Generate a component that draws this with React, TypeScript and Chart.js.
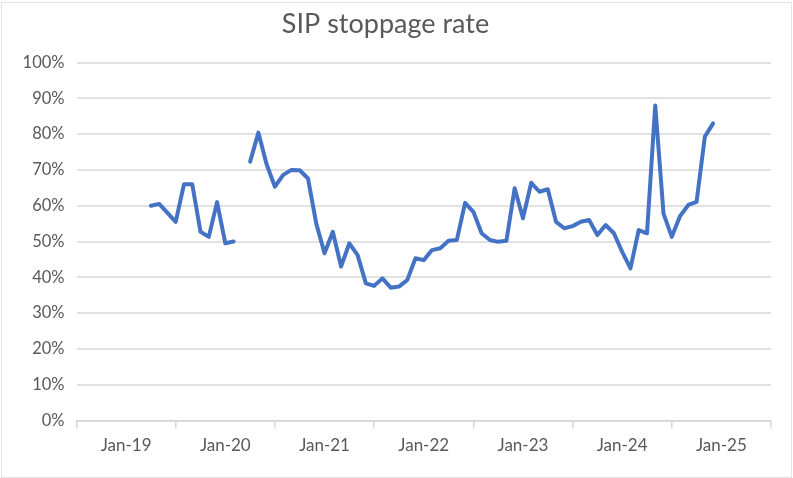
import React, { useEffect, useRef } from "react";
import { Chart, registerables } from "chart.js";

Chart.register(...registerables);

const MONTH_NAMES = ["Jan", "Feb", "Mar", "Apr", "May", "Jun", "Jul", "Aug", "Sep", "Oct", "Nov", "Dec"];

// Category axis: Jul-18 .. Jul-25 (monthly)
const CATEGORIES: string[] = [];
for (let y = 2018; y <= 2025; y++) {
  for (let m = 0; m < 12; m++) {
    if (y === 2018 && m < 6) continue;
    if (y === 2025 && m > 6) continue;
    CATEGORIES.push(`${MONTH_NAMES[m]}-${String(y).slice(2)}`);
  }
}

// SIP stoppage rate (%), Jan..Dec of each year
const pad2018: (number | null)[] = [null, null, null, null, null, null];
const rate2019: (number | null)[] = [null, null, null, 60, 60.5, 58, 55.5, 66, 66, 52.7, 51.3, 61];
const rate2020: (number | null)[] = [49.5, 50, null, 72.3, 80.4, 71.5, 65.3, 68.6, 70, 69.9, 67.6, 55];
const rate2021: (number | null)[] = [46.7, 52.7, 43, 49.5, 46.2, 38.3, 37.6, 39.7, 37.1, 37.4, 39.2, 45.3];
const rate2022: (number | null)[] = [44.8, 47.6, 48.1, 50.2, 50.4, 60.8, 58.3, 52.3, 50.4, 49.9, 50.2, 64.9];
const rate2023: (number | null)[] = [56.5, 66.4, 63.9, 64.6, 55.5, 53.7, 54.3, 55.5, 56, 51.8, 54.6, 52.3];
const rate2024: (number | null)[] = [47.1, 42.5, 53.2, 52.3, 88, 57.8, 51.3, 57.1, 60.2, 61.1, 79.3, 83];
const pad2025: (number | null)[] = [null, null, null, null, null, null, null];

const SERIES = [...pad2018, ...rate2019, ...rate2020, ...rate2021, ...rate2022, ...rate2023, ...rate2024, ...pad2025];

const Y_TICKS = [0, 10, 20, 30, 40, 50, 60, 70, 80, 90, 100];

const FONT = "Lato, 'Noto Sans', sans-serif";
const TEXT = "#595959";
const GRID = "#e2e2e2";

export default function App() {
  const ref = useRef<HTMLCanvasElement | null>(null);

  useEffect(() => {
    if (!ref.current) return;
    const chart = new Chart(ref.current, {
      type: "line",
      data: {
        labels: CATEGORIES,
        datasets: [
          {
            label: "SIP stoppage rate",
            data: SERIES,
            borderColor: "#4472C4",
            borderWidth: 4,
            pointRadius: 0,
            tension: 0,
            spanGaps: false,
            borderJoinStyle: "round",
            borderCapStyle: "round",
            fill: false,
          },
        ],
      },
      options: {
        responsive: false,
        animation: false,
        layout: { padding: { left: 0, right: 22, top: 0, bottom: 0 } },
        plugins: {
          legend: { display: false },
          tooltip: { enabled: false },
          title: {
            display: true,
            text: "SIP stoppage rate",
            color: TEXT,
            font: { family: FONT, size: 27, weight: "normal" },
            padding: { top: 8, bottom: 22.1 },
          },
        },
        scales: {
          x: {
            type: "category",
            offset: false,
            afterFit: (s: any) => {
              s.height = 57.5;
            },
            grid: {
              display: true,
              drawOnChartArea: false,
              drawTicks: true,
              tickLength: 8,
              lineWidth: 1.5,
              color: (ctx: any) => (ctx.index % 12 === 0 ? "#d6d6d6" : "rgba(0,0,0,0)"),
            },
            border: { display: true, color: "#d6d6d6", width: 1.5 },
            ticks: {
              autoSkip: false,
              maxRotation: 0,
              minRotation: 0,
              padding: 7,
              color: TEXT,
              font: { family: FONT, size: 17 },
              callback: function (this: any, v: any) {
                const l = this.getLabelForValue(v) as string;
                return l.startsWith("Jan") ? l : "";
              },
            },
          },
          y: {
            min: 0,
            max: 100,
            afterFit: (s: any) => {
              s.width = 76.5;
            },
            afterBuildTicks: (s: any) => {
              s.ticks = Y_TICKS.map((v) => ({ value: v }));
            },
            grid: { color: GRID, lineWidth: 2, drawTicks: false },
            border: { display: false },
            ticks: {
              padding: 12,
              color: TEXT,
              font: { family: FONT, size: 16.5 },
              callback: (v: any) => `${v}%`,
            },
          },
        },
      },
    });
    return () => chart.destroy();
  }, []);

  return (
    <div style={{ position: "fixed", left: 0, top: 0, width: 793, height: 478, background: "#fff" }}>
      <canvas ref={ref} width={793} height={478} style={{ display: "block", width: 793, height: 478 }} />
      <div
        style={{
          position: "absolute",
          left: 1,
          top: 2,
          width: 789,
          height: 474,
          border: "1px solid #e4e4e4",
          pointerEvents: "none",
        }}
      />
    </div>
  );
}
